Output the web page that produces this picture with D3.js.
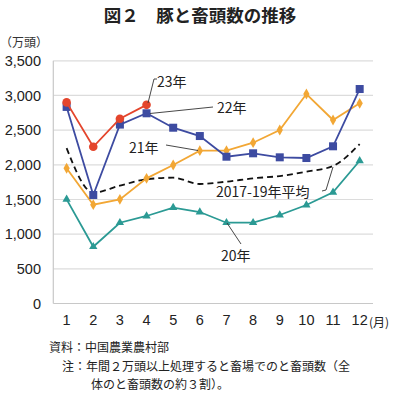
<!DOCTYPE html>
<html><head><meta charset="utf-8">
<script src="https://cdn.jsdelivr.net/npm/d3@7"></script>
<style>body{margin:0;background:#fff}svg{display:block}</style>
</head><body>
<svg id="c" width="400" height="399"></svg>
<script>
const months = ["1","2","3","4","5","6","7","8","9","10","11","12"];
const yTicks = [0,500,1000,1500,2000,2500,3000,3500];
const y23 = [2900,2260,2665,2865];
const y22 = [2835,1565,2580,2743,2535,2415,2117,2166,2108,2098,2267,3093];
const y21 = [1950,1425,1502,1805,1997,2204,2204,2319,2502,3021,2646,2887];
const y20 = [1502,819,1165,1262,1382,1319,1165,1165,1276,1420,1603,2059];
const yAvg = [2240,1600,1700,1791,1814,1723,1757,1805,1838,1901,1983,2300];

const font = "'Noto Sans CJK JP','Liberation Sans',Arial,sans-serif";
const svg = d3.select("#c");
const x = d3.scaleBand().domain(months).range([53.3,373]);
const y = d3.scaleLinear().domain([0,3500]).range([303.5,60.8]);
const cx = (i)=> x(months[i]) + x.bandwidth()/2;

// title
svg.append("text").attr("x",200).attr("y",22).attr("text-anchor","middle")
  .attr("font-family",font).attr("font-size",17.5).attr("font-weight","bold").attr("fill","#222")
  .text("図２　豚と畜頭数の推移");
svg.append("text").attr("x",0).attr("y",47).attr("font-family",font).attr("font-size",12).attr("fill","#333")
  .text("（万頭）");

// gridlines
svg.append("g").selectAll("line").data(yTicks).join("line")
  .attr("x1",53.3).attr("x2",373).attr("y1",d=>y(d)).attr("y2",d=>y(d))
  .attr("stroke",d=>d===0?"#c8c8c8":"#dcdcdc").attr("stroke-width",1.2);
svg.append("line").attr("x1",53.3).attr("x2",53.3).attr("y1",y(3500)).attr("y2",y(0))
  .attr("stroke","#c8c8c8").attr("stroke-width",1.2);

// y axis labels
const yAxis = d3.axisLeft(y).tickValues(yTicks).tickSize(0).tickPadding(0).tickFormat(d3.format(","));
const gy = svg.append("g").attr("transform","translate(41,0)").call(yAxis);
gy.select(".domain").remove();
gy.selectAll("text").attr("font-family","'Liberation Sans',Arial,sans-serif").attr("font-size",14.5).attr("fill","#222");

// x axis labels
const xAxis = d3.axisBottom(x).tickSize(0).tickPadding(0);
const gx = svg.append("g").attr("transform","translate(0,315)").call(xAxis);
gx.select(".domain").remove();
gx.selectAll("text").attr("font-family","'Liberation Sans',Arial,sans-serif").attr("font-size",14.5).attr("fill","#222");
svg.append("text").attr("x",369).attr("y",327).attr("font-family",font).attr("font-size",12).attr("fill","#222").text("(月)");

const line = d3.line().x((d,i)=>cx(i)).y(d=>y(d));

// average dashed
svg.append("path").datum(yAvg).attr("fill","none").attr("stroke","#111").attr("stroke-width",1.8)
  .attr("stroke-dasharray","6,4").attr("d", d3.line().x((d,i)=>cx(i)).y(d=>y(d)).curve(d3.curveMonotoneX));

// 20
const c20="#2b9a94", c21="#f2a735", c22="#3d4ba1", c23="#e4452c";
svg.append("path").datum(y20).attr("fill","none").attr("stroke",c20).attr("stroke-width",1.8).attr("d",line);
svg.append("g").selectAll("path").data(y20).join("path")
  .attr("d",d3.symbol(d3.symbolTriangle,30)).attr("transform",(d,i)=>`translate(${cx(i)},${y(d)})`).attr("fill",c20);
// 21
svg.append("path").datum(y21).attr("fill","none").attr("stroke",c21).attr("stroke-width",1.8).attr("d",line);
svg.append("g").selectAll("path").data(y21).join("path")
  .attr("d",d3.symbol(d3.symbolDiamond,34)).attr("transform",(d,i)=>`translate(${cx(i)},${y(d)})`).attr("fill",c21);
// 22
svg.append("path").datum(y22).attr("fill","none").attr("stroke",c22).attr("stroke-width",1.8).attr("d",line);
svg.append("g").selectAll("rect").data(y22).join("rect")
  .attr("x",(d,i)=>cx(i)-4).attr("y",d=>y(d)-4).attr("width",8).attr("height",8).attr("fill",c22);
// 23
svg.append("path").datum(y23).attr("fill","none").attr("stroke",c23).attr("stroke-width",1.8).attr("d",line);
svg.append("g").selectAll("circle").data(y23).join("circle")
  .attr("cx",(d,i)=>cx(i)).attr("cy",d=>y(d)).attr("r",4.3).attr("fill",c23);

// leaders and labels
const lead = (pts)=> svg.append("polyline").attr("points",pts.map(p=>p.join(",")).join(" "))
  .attr("fill","none").attr("stroke","#333").attr("stroke-width",0.9);
const lab = (t,xx,yy,anchor)=> svg.append("text").attr("x",xx).attr("y",yy).attr("text-anchor",anchor||"start")
  .attr("font-family",font).attr("font-size",14).attr("fill","#222").text(t);

lead([[157,79],[154,79],[148,103]]);
lab("23年",157,87);
lead([[213,107],[150,113.5]]);
lab("22年",217,113);
lead([[166,145],[198,150.5]]);
lab("21年",129,153);
lead([[322,191],[326,190],[333,167]]);
lab("2017-19年平均",216,197);
lead([[227,223],[241,244]]);
lab("20年",221,261);

// notes
const note = (t,xx,yy)=> svg.append("text").attr("x",xx).attr("y",yy).attr("font-family",font)
  .attr("font-size",12).attr("fill","#222").text(t);
note("資料：中国農業農村部",49,352);
note("注：年間２万頭以上処理すると畜場でのと畜頭数（全",62,371);
note("体のと畜頭数の約３割）。",91,389);
</script>
</body></html>
